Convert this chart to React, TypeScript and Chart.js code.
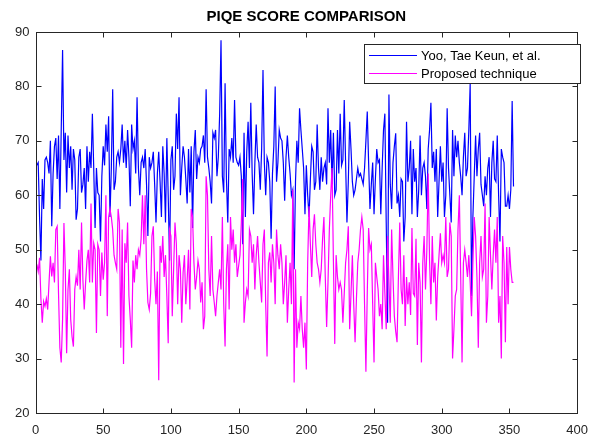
import React, { useEffect, useRef } from "react";
import { Chart, registerables } from "chart.js";
Chart.register(...registerables);

const titleText = "PIQE SCORE COMPARISON";
const seriesNames = ["Yoo, Tae Keun, et al.", "Proposed technique"];
const xTicks = [0, 50, 100, 150, 200, 250, 300, 350, 400];
const yTicks = [20, 30, 40, 50, 60, 70, 80, 90];

const yooValues = [
  65.5, 66, 56, 48, 63, 57.5, 66.5, 67, 66, 64, 70, 54.3, 64, 69, 70.5, 63, 71, 57.5, 72, 86.7, 66.5, 71.5, 60.5, 71, 65, 69, 61, 68.5, 66.5, 55.5,
  57.5, 67, 68.5, 60.5, 62, 65, 57.5, 69, 62.5, 68, 65, 75, 65, 54, 65, 60.5, 60, 51.5, 63.5, 69, 65.5, 73, 68, 74.5, 56, 65, 79.5, 61, 62.5, 67,
  68, 66, 68.5, 73, 66, 70, 65, 72, 67, 58, 73, 68.5, 70, 64, 78, 65, 60, 66, 67, 65, 68.5, 62, 52.5, 67, 65, 66, 68, 62, 55, 64,
  68, 62.5, 56, 69, 64, 55, 70.5, 60, 48, 66.5, 69, 61, 63.5, 75, 68.5, 78, 60, 65, 69, 67, 63, 58.5, 68.5, 60.5, 69, 54, 68, 72, 63, 67,
  66, 68.5, 69, 71, 66, 79.5, 67, 65, 62.5, 58.5, 71.5, 70.5, 72, 63.5, 67, 75, 88.5, 63.5, 60.5, 80.6, 63, 55, 68.5, 67, 70.5, 66, 77.5, 67, 66, 65.5,
  67, 63.5, 51, 71.5, 56, 68, 73.5, 65, 77, 64, 56.5, 66, 73, 67, 66, 61, 68.5, 83, 66, 60, 67, 66, 62.5, 52, 64, 69, 80, 62.5, 66, 72,
  70.5, 70, 66, 59, 67, 71, 67, 64, 60, 61, 46.4, 62.5, 70, 66, 76, 72, 68.5, 65, 56.5, 65.5, 60, 56, 63, 69, 68, 61, 62.5, 73, 65, 61,
  67, 62.5, 65, 66, 62, 76, 66, 72, 62, 71.5, 60, 61, 72, 64, 75, 65.5, 66.5, 77.5, 66, 55, 62.5, 73.5, 68.5, 62.5, 60, 61, 63, 65, 63.5, 64,
  63, 62, 65, 70, 75.4, 66, 57.5, 62, 66, 56.5, 63, 68.5, 66, 66.5, 56.5, 65, 72, 75, 55, 36.6, 78.5, 62, 57.5, 66, 69, 71.4, 58.5, 60, 56, 63,
  62.5, 51.5, 56, 73.5, 62.5, 65, 70, 56.5, 68.5, 62.5, 65, 56, 61, 71, 60, 65, 66, 63.5, 57.5, 68.5, 72, 77, 65, 68, 62.5, 68.5, 56, 62.5, 69, 62.5,
  66, 56, 60, 76, 65, 60, 55, 72, 63.5, 71, 67, 70, 66, 63.5, 60, 67, 71.5, 63.5, 65, 72, 80.5, 41.5, 56, 63.5, 71, 63.5, 68.5, 71.5, 62, 60,
  58, 63.5, 60, 65, 67, 56, 66, 70, 63, 62.5, 71, 60, 51.5, 68.5, 67, 66, 58, 58, 60, 57.5, 61, 77.3, 61.6,
];

const proposedValues = [
  47.3, 46, 48.5, 41, 36.6, 40.5, 39.6, 41, 39, 44, 48.8, 45.1, 47.6, 44, 53.7, 54.3, 42, 32, 29.3, 37.2, 54.9, 46.4, 31, 42.7, 46.4, 37.2, 34, 32.2, 42.7, 45,
  43.4, 50, 42.7, 55, 44.5, 39, 44, 48, 50, 44, 58.5, 44, 51.2, 50, 34.7, 51, 50, 41.5, 49.5, 44.5, 47.6, 60, 37.8, 56, 57.5, 56, 53.7, 49, 47.6, 46.4,
  57.5, 55, 32, 53.7, 29, 51.2, 47.6, 55, 41.5, 37.2, 32, 48, 44, 49, 46.4, 50, 49, 52, 60, 51, 60, 46.4, 40.3, 39, 42, 52.5, 54.3, 44.5, 40, 46,
  26, 50.7, 47.6, 52.5, 45, 49, 41.5, 32.8, 53.7, 52.5, 37.8, 46.4, 55, 51.2, 40, 49, 46.4, 36.6, 45.8, 49, 40, 44.5, 50, 39, 57.5, 56, 47.6, 42.7, 45, 48,
  46.4, 40.3, 44, 35.4, 37.8, 63.5, 60, 46.4, 41.5, 52.5, 42.7, 40.3, 37.8, 41.5, 44, 46.4, 42.7, 56, 40, 32.2, 46.4, 51, 39, 56, 50, 53.7, 47.6, 51, 45, 47,
  49, 55, 63, 36.6, 40.3, 42.7, 41.5, 53.7, 52.5, 47.6, 51, 42.7, 49, 52.5, 47.6, 44, 40.3, 51, 53.7, 40, 30.4, 47.6, 49.5, 44, 51, 47.6, 40, 53.7, 49, 46.4,
  51, 47.6, 40, 44, 49, 36.6, 42.7, 47.6, 40, 61, 25.6, 46.4, 32, 36.6, 35.4, 41.5, 35.4, 32, 36.6, 28, 47.6, 58, 51, 45, 53.7, 56.5, 51, 47.6, 46.4, 44,
  46.4, 52, 56, 45, 35.8, 44, 53.7, 60, 65, 48, 32.7, 49, 45, 42.7, 44, 42.7, 36.6, 42, 47.6, 50, 54.3, 35.4, 42, 49, 40, 33, 41, 47.6, 50, 53.7,
  56, 53.7, 40, 27.6, 42, 54, 50, 51, 40, 29.3, 47.6, 45, 42.7, 37.8, 40, 35.4, 49, 42, 35.4, 52.5, 44, 36.6, 53.7, 45, 37.8, 35, 33, 45, 55, 42.7,
  40, 49, 36, 45, 40, 44, 38, 54, 42, 41.5, 52, 32.5, 47.6, 44, 29.3, 47.6, 52.5, 42.7, 50, 64, 48, 40, 52.5, 44, 47.6, 37, 45, 49, 53, 47.6,
  49, 47.6, 56, 45, 46.4, 55, 52.5, 30, 35.4, 41.5, 42.7, 53.7, 60, 45, 29.3, 47.6, 50, 47.6, 45, 49, 44, 37.8, 47.6, 56, 52.5, 45, 32, 47.6, 52.5, 45,
  46.4, 58.5, 36.6, 41.5, 56, 49, 42.7, 49, 53.7, 47.6, 56, 36.6, 41.5, 30, 52.5, 47.6, 33, 50.5, 40, 50.5, 46.4, 44, 44,
];

const seriesColors = ["#0000ff", "#ff00ff"];
const axisColor = "#262626";
const fontFamily = "'Liberation Sans', Arial, Helvetica, sans-serif";

export default function App() {
  const ref = useRef<HTMLCanvasElement>(null);
  useEffect(() => {
    document.body.style.margin = "0";
    const canvas = ref.current!;
    const toPts = (arr: number[]) => arr.map((v, i) => ({ x: i + 1, y: v }));

    const framePlugin = {
      id: "matlabFrame",
      afterDraw(chart: any) {
        const { ctx, chartArea } = chart;
        const { left, right, top, bottom } = chartArea;
        const xs = chart.scales.x;
        const ys = chart.scales.y;
        ctx.save();
        ctx.strokeStyle = axisColor;
        ctx.lineWidth = 1;
        const L = Math.round(left) + 0.5;
        const R = Math.round(right) + 0.5;
        const T = Math.round(top) + 0.5;
        const B = Math.round(bottom) + 0.5;
        ctx.strokeRect(L, T, R - L, B - T);
        const tl = 5;
        ctx.beginPath();
        xTicks.forEach((t) => {
          const px = Math.round(xs.getPixelForValue(t)) + 0.5;
          ctx.moveTo(px, B);
          ctx.lineTo(px, B - tl);
          ctx.moveTo(px, T);
          ctx.lineTo(px, T + tl);
        });
        yTicks.forEach((t) => {
          const py = Math.round(ys.getPixelForValue(t)) + 0.5;
          ctx.moveTo(L, py);
          ctx.lineTo(L + tl, py);
          ctx.moveTo(R, py);
          ctx.lineTo(R - tl, py);
        });
        ctx.stroke();

        // title
        ctx.fillStyle = "#000";
        ctx.font = `bold 15px ${fontFamily}`;
        ctx.textAlign = "center";
        ctx.textBaseline = "middle";
        ctx.fillText(titleText, (left + right) / 2, 17);

        // legend
        const lx = 364.5, ly = 44.5, lw = 216, lh = 39;
        ctx.fillStyle = "#fff";
        ctx.fillRect(lx, ly, lw, lh);
        ctx.strokeStyle = axisColor;
        ctx.strokeRect(lx, ly, lw, lh);
        ctx.font = `13px ${fontFamily}`;
        ctx.textAlign = "left";
        ctx.textBaseline = "middle";
        seriesNames.forEach((name, i) => {
          const yy = 55 + i * 18;
          ctx.strokeStyle = seriesColors[i];
          ctx.lineWidth = 1.2;
          ctx.beginPath();
          ctx.moveTo(369, yy + 0.5);
          ctx.lineTo(417, yy + 0.5);
          ctx.stroke();
          ctx.fillStyle = "#000";
          ctx.fillText(name, 421, yy + 1);
        });
        ctx.restore();
      },
    };

    const chart = new Chart(canvas, {
      type: "line",
      data: {
        datasets: [
          {
            label: seriesNames[0],
            data: toPts(yooValues),
            borderColor: seriesColors[0],
            borderWidth: 1.2,
            pointRadius: 0,
            tension: 0,
            fill: false,
            order: 1,
          },
          {
            label: seriesNames[1],
            data: toPts(proposedValues),
            borderColor: seriesColors[1],
            borderWidth: 1.2,
            pointRadius: 0,
            tension: 0,
            fill: false,
            order: 0,
          },
        ],
      },
      options: {
        animation: false,
        responsive: false,
        devicePixelRatio: 1,
        layout: { padding: { top: 32, right: 15, left: 0, bottom: 0 } },
        plugins: {
          legend: { display: false },
          title: { display: false },
          tooltip: { enabled: false },
        },
        scales: {
          x: {
            type: "linear",
            min: 0,
            max: 400,
            afterBuildTicks: (s: any) => {
              s.ticks = xTicks.map((v) => ({ value: v }));
            },
            ticks: {
              color: axisColor,
              font: { size: 13, family: fontFamily },
              padding: 10,
              maxRotation: 0,
              autoSkip: false,
            },
            grid: { display: false, drawTicks: false },
            border: { display: false },
            afterFit: (s: any) => {
              s.height = 28;
            },
          },
          y: {
            type: "linear",
            min: 20,
            max: 90,
            afterBuildTicks: (s: any) => {
              s.ticks = yTicks.map((v) => ({ value: v }));
            },
            ticks: {
              color: axisColor,
              font: { size: 13, family: fontFamily },
              padding: 6,
              autoSkip: false,
            },
            grid: { display: false, drawTicks: false },
            border: { display: false },
            afterFit: (s: any) => {
              s.width = 35.5;
            },
          },
        },
      },
      plugins: [framePlugin],
    });
    return () => chart.destroy();
  }, []);
  return <canvas ref={ref} width={598} height={441} style={{ display: "block" }} />;
}
